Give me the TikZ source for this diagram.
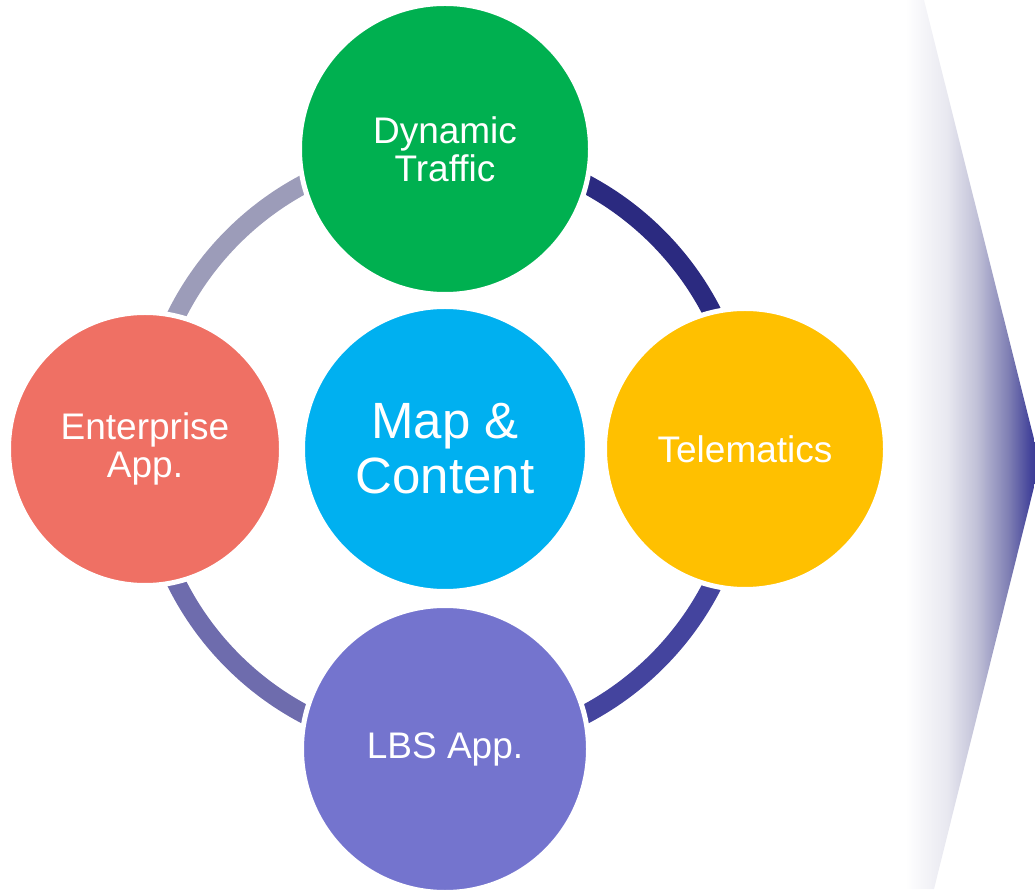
\documentclass[tikz,border=0pt]{standalone}
\usepackage{fontspec}
\setmainfont{Liberation Sans}
\usetikzlibrary{backgrounds}
\definecolor{cgreen}{HTML}{00B050}
\definecolor{csalmon}{HTML}{EF7064}
\definecolor{cblue}{HTML}{00B0F0}
\definecolor{cyellow}{HTML}{FFC000}
\definecolor{cpurple}{HTML}{7474CE}
\definecolor{arcTL}{HTML}{9C9CB9}
\definecolor{arcTR}{HTML}{2B2A80}
\definecolor{arcBR}{HTML}{44449E}
\definecolor{arcBL}{HTML}{6E6CAD}
\definecolor{shA}{HTML}{E8E8F0}
\definecolor{shB}{HTML}{C2C2D8}
\definecolor{shC}{HTML}{8080B4}
\definecolor{shD}{HTML}{43439A}
\definecolor{shE}{HTML}{363692}
\pgfdeclarehorizontalshading{arrowshade}{100bp}{color(0bp)=(white); color(33bp)=(white); color(46bp)=(shA); color(55bp)=(shB); color(65bp)=(shC); color(72bp)=(shD); color(75bp)=(shE); color(100bp)=(shE)}
\begin{document}
\begin{tikzpicture}[x=1pt,y=1pt,
  bubble/.style={circle, inner sep=0pt, text=white, align=center, draw=white, line width=5pt},
  smalltext/.style={font=\fontsize{37}{38}\selectfont},
  bigtext/.style={font=\fontsize{51}{55}\selectfont},
  ringarc/.style={line width=19pt}]
\useasboundingbox (0,0) rectangle (1035,889);
% right-hand chevron with gradient
\begin{scope}
  \clip (0,0) rectangle (1035,889);
  \shade[shading=arrowshade] (880,889) -- (924,889) -- (1040,426) -- (934,0) -- (880,0) -- cycle;
\end{scope}
% circles
\node[bubble, smalltext, fill=cgreen, minimum size=291pt] (traffic) at (445,740) {Dynamic\\Traffic};
\node[bubble, smalltext, fill=csalmon, minimum size=273pt] (enterprise) at (145,440) {Enterprise\\App.};
\node[bubble, bigtext, fill=cblue, minimum size=285pt] (map) at (445,440) {Map \&\\Content};
\node[bubble, smalltext, fill=cyellow, minimum size=281pt] (telematics) at (745,440) {Telematics};
\node[bubble, smalltext, fill=cpurple, minimum size=287pt] (lbs) at (445,140) {LBS App.};
% ring arcs
\begin{pgfonlayer}{background}
  \draw[ringarc, arcTR] (telematics.center) arc[start angle=0, end angle=90, radius=300];
  \draw[ringarc, arcTL] (traffic.center) arc[start angle=90, end angle=180, radius=300];
  \draw[ringarc, arcBL] (enterprise.center) arc[start angle=180, end angle=270, radius=300];
  \draw[ringarc, arcBR] (lbs.center) arc[start angle=270, end angle=360, radius=300];
\end{pgfonlayer}
\end{tikzpicture}
\end{document}
